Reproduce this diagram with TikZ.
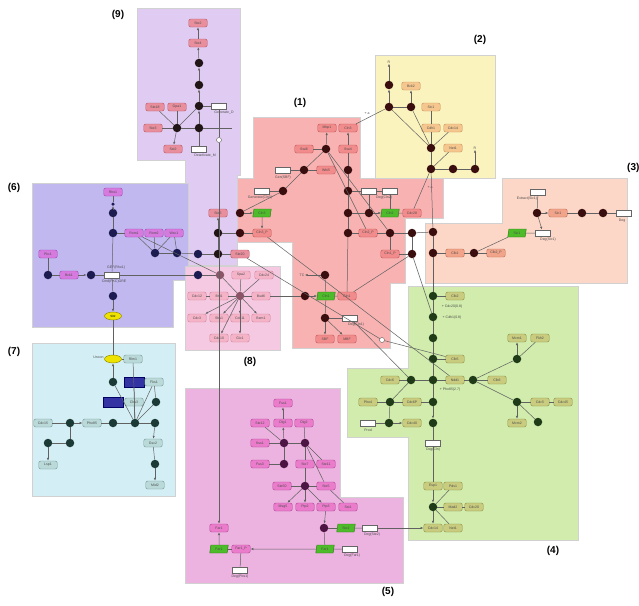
\documentclass[tikz,border=0pt]{standalone}
\usepackage{fontspec}
\setmainfont{Liberation Sans}
\usetikzlibrary{shapes.geometric,arrows.meta}
\definecolor{rA}{HTML}{F8B2B2}
\definecolor{rB}{HTML}{FBF3BE}
\definecolor{rC}{HTML}{FCD6C6}
\definecolor{rD}{HTML}{D1ECAC}
\definecolor{rE}{HTML}{ECB2E0}
\definecolor{rF}{HTML}{C0B8EF}
\definecolor{rG}{HTML}{D3EEF4}
\definecolor{rH}{HTML}{F5C9E2}
\definecolor{rI}{HTML}{E0CCF2}
\definecolor{dkA}{HTML}{3A0E0E}
\definecolor{dkD}{HTML}{1F3B18}
\definecolor{dkE}{HTML}{4C1442}
\definecolor{dkF}{HTML}{1C1C50}
\definecolor{dkG}{HTML}{1B3A36}
\definecolor{dkH}{HTML}{8A5566}
\definecolor{dkI}{HTML}{221515}
\definecolor{bxAf}{HTML}{F28C8C}\definecolor{bxAd}{HTML}{C25A5A}
\definecolor{bxBf}{HTML}{F5C78E}\definecolor{bxBd}{HTML}{C7955A}
\definecolor{bxCf}{HTML}{F2A48A}\definecolor{bxCd}{HTML}{C07058}
\definecolor{bxDf}{HTML}{C9CC7E}\definecolor{bxDd}{HTML}{8E9448}
\definecolor{bxEf}{HTML}{EA7CCB}\definecolor{bxEd}{HTML}{B24A98}
\definecolor{bxFf}{HTML}{D77ADF}\definecolor{bxFd}{HTML}{A04CB0}
\definecolor{bxGf}{HTML}{BAD9D9}\definecolor{bxGd}{HTML}{7A9A9A}
\definecolor{bxHf}{HTML}{F5B3C8}\definecolor{bxHd}{HTML}{D0889C}
\definecolor{bxIf}{HTML}{E98E9C}\definecolor{bxId}{HTML}{B85A68}
\definecolor{grf}{HTML}{4DBB2A}\definecolor{grd}{HTML}{2E7A14}
\begin{document}
\begin{tikzpicture}[x=1pt,y=-1pt,
 reg/.style={draw=black!18,line width=0.9pt},
 dotb/.style={circle,inner sep=0pt,minimum size=8.5pt},
 dA/.style={dotb,fill=dkA}, dD/.style={dotb,fill=dkD}, dE/.style={dotb,fill=dkE},
 dF/.style={dotb,fill=dkF}, dG/.style={dotb,fill=dkG}, dH/.style={dotb,fill=dkH},
 dI/.style={dotb,fill=dkI},
 boxb/.style={rounded corners=2pt,draw,line width=0.45pt,inner sep=0.4pt,minimum width=18.5pt,minimum height=8pt,font=\fontsize{3.5}{3.8}\selectfont,text=black!70},
 bA/.style={boxb,fill=bxAf,draw=bxAd}, bB/.style={boxb,fill=bxBf,draw=bxBd},
 bC/.style={boxb,fill=bxCf,draw=bxCd}, bD/.style={boxb,fill=bxDf,draw=bxDd},
 bE/.style={boxb,fill=bxEf,draw=bxEd}, bF/.style={boxb,fill=bxFf,draw=bxFd},
 bG/.style={boxb,fill=bxGf,draw=bxGd}, bH/.style={boxb,fill=bxHf,draw=bxHd},
 bI/.style={boxb,fill=bxIf,draw=bxId},
 wbox/.style={draw=black!60,fill=white,line width=0.45pt,minimum width=15pt,minimum height=6.5pt,inner sep=0pt},
 gpar/.style={trapezium,trapezium left angle=65,trapezium right angle=115,trapezium stretches body,fill=grf,draw=grd,line width=0.45pt,minimum width=18.5pt,minimum height=8pt,inner sep=0pt,font=\fontsize{3.5}{3.8}\selectfont,text=black!70},
 blu/.style={fill=blue!55!black!80,draw=blue!40!black,minimum width=20pt,minimum height=10pt,inner sep=0pt},
 yel/.style={ellipse,fill=yellow!85!olive,draw=olive,line width=0.45pt,minimum width=17pt,minimum height=8pt,inner sep=0pt},
 ocirc/.style={circle,draw=black!65,fill=white,minimum size=5pt,inner sep=0pt},
 tiny/.style={font=\fontsize{3.5}{3.8}\selectfont,text=black!70,inner sep=0.3pt},
 rlab/.style={font=\bfseries\fontsize{10}{12}\selectfont,inner sep=0pt},
 ln/.style={draw=black!62,line width=0.5pt},
 ar/.style={ln,-{Latex[length=2.8pt,width=2.2pt]}}
]
\useasboundingbox (0,0) rectangle (639,605);
\fill[white] (0,0) rectangle (639,605);
% ---------------- regions
\path[reg,fill=rI] (137,8) -- (240,8) -- (240,175) -- (237,175) -- (237,265) -- (185,265) -- (185,160) -- (137,160) -- cycle;
\path[reg,fill=rF] (32,183) -- (188,183) -- (188,280) -- (173,280) -- (173,327) -- (32,327) -- cycle;
\path[reg,fill=rH] (185,266) -- (280,266) -- (280,350) -- (185,350) -- cycle;
\path[reg,fill=rG] (32,343) rectangle (175,496);
\path[reg,fill=rA] (253,117) -- (360,117) -- (360,178) -- (443,178) -- (443,218) -- (405,218) -- (405,283) -- (390,283) -- (390,348) -- (292,348) -- (292,242) -- (237,242) -- (237,178) -- (253,178) -- cycle;
\path[reg,fill=rB] (375,55) rectangle (495,178);
\path[reg,fill=rC] (502,178) -- (627,178) -- (627,283) -- (425,283) -- (425,223) -- (502,223) -- cycle;
\path[reg,fill=rD] (408,286) -- (578,286) -- (578,540) -- (408,540) -- (408,437) -- (347,437) -- (347,368) -- (408,368) -- cycle;
\path[reg,fill=rE] (185,388) -- (340,388) -- (340,497) -- (403,497) -- (403,583) -- (185,583) -- cycle;
% ---------------- region labels
\node[rlab] (L1) at (300,103) {(1)};
\node[rlab] (L2) at (480,40) {(2)};
\node[rlab,anchor=west] (L3) at (627,168) {(3)};
\node[rlab] (L4) at (553,551) {(4)};
\node[rlab] (L5) at (388,592) {(5)};
\node[rlab] (L6) at (14,188) {(6)};
\node[rlab] (L7) at (14,352) {(7)};
\node[rlab] (L8) at (250,362) {(8)};
\node[rlab] (L9) at (118,15) {(9)};
% ---------------- region 9
\node[bI] (b9a) at (198,23) {Ste2};
\node[bI] (b9b) at (198,43) {Ste4};
\node[dI] (d9a) at (199,63) {};
\node[dI] (d9b) at (199,85) {};
\node[dI] (d9c) at (199,106) {};
\node[wbox] (w9a) at (219,106) {};
\node[tiny] (t9a) at (224,113) {Generate\_D};
\node[bI] (b9c) at (155,107) {Ste18};
\node[bI] (b9d) at (177,107) {Gpa1};
\node[bI] (b9e) at (153,128) {Ste3};
\node[dI] (d9d) at (177,128) {};
\node[dI] (d9e) at (199,128) {};
\node[bI] (b9f) at (173,149) {Sst2};
\node[wbox] (w9b) at (199,149) {};
\node[tiny] (t9b) at (205,156) {Deactivate\_M};
\node[ocirc] (c9) at (219,140) {};
\coordinate (e9) at (232,128);
\node[bI] (b9g) at (218,213) {Ste5};
\node[dI] (d9f) at (218,233) {};
\node[dI] (d9h) at (218,254) {};
\node[bI] (b9h) at (240,254) {Ste20};
\node[dF] (d6x) at (198,254) {};
\node[dF] (d6y) at (198,275) {};
% ---------------- region 6
\node[bF] (b6a) at (113,192) {Rho1};
\node[circle,fill=dkF,inner sep=0pt,minimum size=3.5pt] (s6) at (113,204) {};
\node[dF] (d6a) at (113,213) {};
\node[dF] (d6b) at (113,233) {};
\node[bF] (b6b) at (134,233) {Rom1};
\node[bF] (b6c) at (154,233) {Rom2};
\node[bF] (b6d) at (174,233) {Wsc1};
\node[dF] (d6c) at (155,253) {};
\node[dF] (d6d) at (177,253) {};
\node[bF] (b6e) at (48,254) {Pkc1};
\node[dF] (d6e) at (48,275) {};
\node[bF] (b6f) at (69,275) {Bck1};
\node[dF] (d6f) at (91,275) {};
\node[wbox] (w6) at (112,275) {};
\node[tiny] (t6a) at (116,268) {GEF(Rho1)};
\node[tiny] (t6b) at (114,282) {Cmd(PKC)GRE};
\node[dF] (d6g) at (113,296) {};
\node[yel,font=\fontsize{3}{3.3}\selectfont] (y6) at (113,316) {Slt2};
% ---------------- region 7
\node[yel] (y7) at (113,359) {};
\node[tiny,anchor=east] (t7a) at (104,357) {Uncon};
\node[bG] (b7a) at (133,359) {Rlm1};
\node[dG] (d7a) at (113,382) {};
\node[blu] (r7a) at (134,382) {};
\node[bG] (b7b) at (154,382) {Fks1};
\node[blu] (r7b) at (113,402) {};
\node[bG] (b7c) at (134,402) {Chs3};
\node[dG] (d7b) at (156,402) {};
\node[bG] (b7d) at (43,423) {Cdc15};
\node[dG] (d7c) at (70,423) {};
\node[bG] (b7e) at (92,423) {Pho85};
\node[dG] (d7d) at (113,423) {};
\node[dG] (d7e) at (135,423) {};
\node[dG] (d7f) at (155,423) {};
\node[dG] (d7g) at (48,443) {};
\node[dG] (d7h) at (70,443) {};
\node[bG] (b7f) at (153,443) {Gsc2};
\node[bG] (b7g) at (48,465) {Lsp1};
\node[dG] (d7i) at (155,464) {};
\node[bG] (b7h) at (155,485) {Mid2};
% ---------------- region 8
\node[dH] (d8a) at (220,275) {};
\node[bH] (b8a) at (241,275) {Spa2};
\node[bH] (b8b) at (264,275) {Cdc24};
\node[bH] (b8c) at (197,296) {Cdc12};
\node[bH] (b8d) at (219,296) {Bni1};
\node[dH] (d8b) at (240,296) {};
\node[bH] (b8e) at (261,296) {Bud6};
\node[bH] (b8f) at (197,318) {Cdc3};
\node[bH] (b8g) at (219,318) {Shs1};
\node[bH] (b8h) at (240,318) {Cdc11};
\node[bH] (b8i) at (261,318) {Bem1};
\node[bH] (b8j) at (219,338) {Cdc10};
\node[bH] (b8k) at (240,338) {Gic1};
% ---------------- region 1
\node[bA] (b1a) at (327,128) {Mbp1};
\node[bA] (b1b) at (348,128) {Cln3};
\node[bA] (b1c) at (304,149) {Swi6};
\node[dA] (d1a) at (326,149) {};
\node[bA] (b1d) at (348,149) {Swi4};
\node[wbox] (w1a) at (283,170) {};
\node[tiny] (t1a) at (283,178) {Gen(SBF)};
\node[dA] (d1b) at (304,170) {};
\node[bA] (b1e) at (326,170) {Whi5};
\node[dA] (d1c) at (348,170) {};
\node[wbox] (w1b) at (262,191) {};
\node[tiny] (t1b) at (260,198) {Generate(Cln3)};
\node[dA] (d1d) at (283,191) {};
\node[dA] (d1e) at (348,191) {};
\node[wbox] (w1c) at (369,191) {};
\node[wbox] (w1d) at (390,191) {};
\node[tiny] (t1c) at (384,198) {Deg(Cln2)};
\node[dA] (d1f) at (240,213) {};
\node[gpar] (g1a) at (262,213) {Cln3};
\node[dA] (d1g) at (348,213) {};
\node[dA] (d1h) at (369,213) {};
\node[gpar] (g1b) at (390,213) {Cln2};
\node[bA] (b1f) at (412,213) {Cdc28};
\node[dA] (d1i) at (240,233) {};
\node[bA] (b1g) at (262,233) {Cln3\_P};
\node[dA] (d1j) at (348,233) {};
\node[bA] (b1h) at (368,233) {Cln2\_P};
\node[dA] (d1k) at (390,233) {};
\node[dA] (d1l) at (412,233) {};
\node[bA] (b1i) at (390,254) {Cln1\_P};
\node[dA] (d1m) at (412,254) {};
\node[tiny] (t1d) at (302,275) {TC};
\node[dA] (d1n) at (325,275) {};
\node[dA] (d1o) at (305,296) {};
\node[gpar] (g1c) at (326,296) {Cln1};
\node[bA] (b1j) at (347,296) {Cln1};
\node[dA] (d1p) at (325,318) {};
\node[wbox] (w1e) at (350,318) {};
\node[tiny] (t1e) at (356,325) {Deg(Cln1)};
\node[bA] (b1k) at (325,339) {SBF};
\node[bA] (b1l) at (347,339) {MBF};
\node[ocirc] (c1) at (382,340) {};
\node[tiny] (t1f) at (367,114) {+ a};
\node[tiny] (t1g) at (430,188) {+ a};
% ---------------- region 2
\node[tiny] (t2a) at (389,62) {R};
\node[dA] (d2a) at (389,85) {};
\node[bB] (b2a) at (411,86) {Bck2};
\node[dA] (d2b) at (389,107) {};
\node[dA] (d2c) at (411,107) {};
\node[bB] (b2b) at (431,107) {Sic1};
\node[bB] (b2c) at (431,128) {Cdh1};
\node[bB] (b2d) at (453,128) {Cdc14};
\node[dA] (d2d) at (431,148) {};
\node[bB] (b2e) at (453,148) {Net1};
\node[dA] (d2e) at (431,169) {};
\node[dA] (d2f) at (453,169) {};
\node[dA] (d2g) at (475,169) {};
\node[tiny] (t2b) at (475,148) {R};
% ---------------- region 3
\node[wbox] (w3a) at (538,192) {};
\node[tiny] (t3a) at (527,199) {Extract(Sic1)};
\node[dA] (d3a) at (537,213) {};
\node[bC] (b3a) at (558,213) {Sic1};
\node[dA] (d3b) at (582,213) {};
\node[dA] (d3c) at (603,213) {};
\node[wbox] (w3b) at (624,213) {};
\node[tiny] (t3b) at (622,221) {Deg};
\node[gpar] (g3) at (517,233) {Sic1};
\node[wbox] (w3c) at (543,233) {};
\node[tiny] (t3c) at (548,240) {Deg(Sic1)};
\node[dA] (d3d) at (433,232) {};
\node[dA] (d3e) at (433,253) {};
\node[bC] (b3b) at (455,253) {Clb1};
\node[dA] (d3f) at (474,253) {};
\node[bC] (b3c) at (496,253) {Clb2\_P};
% ---------------- region 4
\node[dD] (d4a) at (433,296) {};
\node[bD] (b4a) at (455,296) {Clb2};
\node[dD] (d4b) at (433,317) {};
\node[tiny] (t4a) at (452,307) {+ Cdc20(0.8)};
\node[tiny] (t4b) at (452,318) {+ Cdh1(0.8)};
\node[dD] (d4c) at (433,338) {};
\node[bD] (b4b) at (517,338) {Mcm1};
\node[bD] (b4c) at (540,338) {Fkh2};
\node[dD] (d4d) at (433,359) {};
\node[bD] (b4d) at (455,359) {Clb5};
\node[dD] (d4e) at (517,359) {};
\node[bD] (b4e) at (390,380) {Cdc6};
\node[dD] (d4f) at (411,380) {};
\node[dD] (d4g) at (433,380) {};
\node[bD] (b4f) at (455,380) {Ndd1};
\node[dD] (d4h) at (473,380) {};
\node[bD] (b4g) at (497,380) {Clb6};
\node[tiny] (t4c) at (450,390) {+ Pho85(2.7)};
\node[bD] (b4h) at (368,402) {Pho4};
\node[dD] (d4i) at (390,402) {};
\node[bD] (b4i) at (412,402) {Cdc6P};
\node[dD] (d4j) at (433,402) {};
\node[dD] (d4k) at (517,402) {};
\node[bD] (b4j) at (540,402) {Cdc5};
\node[bD] (b4k) at (563,402) {Cdc45};
\node[wbox] (w4a) at (368,423) {};
\node[tiny] (t4d) at (368,430) {Prod};
\node[dD] (d4l) at (389,423) {};
\node[bD] (b4l) at (412,423) {Cdc40};
\node[dD] (d4m) at (433,423) {};
\node[bD] (b4m) at (517,423) {Mcm2};
\node[dD] (d4n) at (538,422) {};
\node[wbox] (w4b) at (433,443) {};
\node[tiny] (t4e) at (433,450) {Deg(Cln)};
\node[bD] (b4n) at (433,486) {Esp1};
\node[bD] (b4o) at (453,486) {Pds1};
\node[dD] (d4o) at (433,507) {};
\node[bD] (b4p) at (453,507) {Mad2};
\node[bD] (b4q) at (474,507) {Cdc20};
\node[bD] (b4r) at (433,528) {Cdc14};
\node[bD] (b4s) at (453,528) {Net1};
% ---------------- region 5
\node[bE] (b5a) at (283,403) {Fus1};
\node[bE] (b5b) at (260,423) {Ste12};
\node[bE] (b5c) at (283,423) {Dig1};
\node[bE] (b5d) at (304,423) {Dig2};
\node[bE] (b5e) at (260,443) {Kss1};
\node[dE] (d5a) at (284,443) {};
\node[dE] (d5b) at (305,443) {};
\node[bE] (b5f) at (260,464) {Fus3};
\node[dE] (d5c) at (284,464) {};
\node[bE] (b5g) at (305,464) {Ste7};
\node[bE] (b5h) at (326,464) {Ste11};
\node[bE] (b5i) at (282,486) {Ste50};
\node[dE] (d5d) at (305,486) {};
\node[bE] (b5j) at (326,486) {Ste5};
\node[bE] (b5k) at (283,507) {Msg5};
\node[bE] (b5l) at (305,507) {Ptp2};
\node[bE] (b5m) at (326,507) {Ptp3};
\node[bE] (b5n) at (348,507) {Sst1};
\node[bE] (b5o) at (219,528) {Far1};
\node[dE] (d5e) at (324,528) {};
\node[gpar] (g5a) at (346,528) {Ste2};
\node[wbox] (w5a) at (370,528) {};
\node[tiny] (t5a) at (372,535) {Deg(Ste2)};
\node[gpar] (g5b) at (219,549) {Far1};
\node[bE] (b5p) at (241,549) {Far1\_P};
\node[gpar] (g5c) at (325,549) {Far1};
\node[wbox] (w5b) at (350,549) {};
\node[tiny] (t5b) at (352,556) {Deg(Far1)};
\node[wbox] (w5c) at (240,570) {};
\node[tiny] (t5c) at (240,577) {Deg(Pbs1)};
% ================= connectors
% region 9
\draw[ar] (b9b) -- (b9a);
\draw[ar] (d9a) -- (b9b);
\draw[ar] (d9b) -- (d9a);
\draw[ar] (d9c) -- (d9b);
\draw[ln] (w9a) -- (d9c);
\draw[ln] (b9c) -- (d9d);
\draw[ln] (b9d) -- (d9d);
\draw[ln] (b9e) -- (d9d);
\draw[ln] (d9d) -- (d9e);
\draw[ln] (d9e) -- (e9);
\draw[ar] (d9e) -- (d9c);
\draw[ln] (d9d) -- (d9c);
\draw[ar] (d9d) -- (b9f);
\draw[ln] (w9b) -- (d9e);
\draw[ln] (w9a) -- (c9);
\draw[ar] (c9) -- (b5o);
\draw[ar] (d9f) -- (b9g);
\draw[ln] (d9h) -- (d9f);
\draw[ln] (d6x) -- (d9h);
\draw[ln] (d9h) -- (b9h);
\draw[ln] (d9f) -- (d1i);
% region 6
\draw[ar] (d6a) -- (s6);
\draw[ln] (s6) -- (b6a);
\draw[ln] (d6b) -- (d6a);
\draw[ln] (d6b) -- (b6b);
\draw[ln] (b6b) -- (d6c);
\draw[ln] (b6c) -- (d6c);
\draw[ln] (b6d) -- (d6c);
\draw[ln] (b6d) -- (d6d);
\draw[ln] (d6c) -- (d6d);
\draw[ln] (d6d) -- (d6x);
\draw[ln] (d6e) -- (b6e);
\draw[ln] (d6e) -- (b6f);
\draw[ar] (b6f) -- (d6f);
\draw[ln] (d6f) -- (w6);
\draw[ln] (w6) -- (d6y);
\draw[ln] (d6b) -- (w6);
\draw[ln] (w6) -- (d6g);
\draw[ar] (d6g) -- (y6);
\draw[ln] (b6b) -- (d8a);
\draw[ln] (d6y) -- (d8a);
% region 7
\draw[ln] (y6) -- (y7);
\draw[ln] (y7) -- (b7a);
\draw[ar] (d7a) -- (y7);
\draw[ln] (d7a) -- (d7e);
\draw[ln] (b7a) -- (d7e);
\draw[ln] (b7b) -- (d7e);
\draw[ln] (r7a) -- (d7e);
\draw[ln] (b7c) -- (d7e);
\draw[ln] (d7b) -- (d7e);
\draw[ln] (d7b) -- (b7b);
\draw[ln] (d7c) -- (b7d);
\draw[ar] (d7c) -- (b7e);
\draw[ln] (b7e) -- (d7d);
\draw[ln] (d7d) -- (d7e);
\draw[ln] (d7e) -- (d7f);
\draw[ln] (d7c) -- (d7h);
\draw[ln] (d7h) -- (d7g);
\draw[ar] (d7g) -- (b7g);
\draw[ar] (d7f) -- (b7f);
\draw[ln] (b7f) -- (d7i);
\draw[ar] (d7i) -- (b7h);
% region 8
\draw[ln] (d8a) -- (d8b);
\draw[ln] (d8b) -- (b8a);
\draw[ln] (d8b) -- (b8b);
\draw[ln] (b8c) -- (b8d);
\draw[ln] (b8d) -- (d8b);
\draw[ln] (d8b) -- (b8e);
\draw[ar] (d8b) -- (b8f);
\draw[ar] (d8b) -- (b8g);
\draw[ar] (d8b) -- (b8h);
\draw[ar] (d8b) -- (b8i);
\draw[ar] (d8b) -- (b8j);
\draw[ar] (d8b) -- (b8k);
\draw[ln] (b8e) -- (d1o);
% region 1
\draw[ln] (d1a) -- (b1c);
\draw[ar] (d1a) -- (b1a);
\draw[ar] (b1d) -- (b1b);
\draw[ln] (d1b) -- (d1a);
\draw[ln] (w1a) -- (d1b);
\draw[ln] (d1b) -- (b1e);
\draw[ln] (w1b) -- (d1d);
\draw[ln] (d1d) -- (d1b);
\draw[ln] (d1f) -- (d1d);
\draw[ar] (d1f) -- (g1a);
\draw[ar] (g1a) -- (b1g);
\draw[ln] (d1i) -- (b1g);
\draw[ln] (d1c) -- (b1d);
\draw[ln] (d1c) -- (d1e);
\draw[ln] (d1e) -- (d1g);
\draw[ln] (d1g) -- (d1j);
\draw[ln] (d1j) -- (b1j);
\draw[ln] (d1e) -- (w1c);
\draw[ln] (w1c) -- (w1d);
\draw[ln] (d1h) -- (w1c);
\draw[ln] (d1g) -- (d1h);
\draw[ar] (d1h) -- (g1b);
\draw[ln] (g1b) -- (b1f);
\draw[ln] (w1d) -- (g1b);
\draw[ln] (d1j) -- (b1h);
\draw[ln] (b1h) -- (d1k);
\draw[ln] (d1k) -- (d1l);
\draw[ln] (d1a) -- (b1h);
\draw[ln] (d1a) -- (d1k);
\draw[ln] (d1k) -- (b1i);
\draw[ln] (b1i) -- (d1m);
\draw[ln] (d1l) -- (d1m);
\draw[ar] (d1n) -- (t1d);
\draw[ln] (d1n) -- (g1c);
\draw[ar] (d1o) -- (g1c);
\draw[ln] (g1c) -- (b1j);
\draw[ln] (g1c) -- (d1p);
\draw[ln] (d1p) -- (w1e);
\draw[ar] (d1p) -- (b1k);
\draw[ar] (d1p) -- (b1l);
\draw[ln] (b1j) -- (d1m);
\draw[ln] (b1b) -- (d2b);
\draw[ln] (b1f) -- (d2e);
\draw[ln] (d1l) -- (d3d);
% region 2
\draw[ar] (d2a) -- (t2a);
\draw[ar] (d2b) -- (d2a);
\draw[ln] (d2b) -- (d2c);
\draw[ar] (d2c) -- (b2a);
\draw[ln] (d2b) -- (d2d);
\draw[ln] (d2c) -- (d2d);
\draw[ln] (b2b) -- (b2c);
\draw[ln] (b2c) -- (d2d);
\draw[ln] (b2d) -- (d2d);
\draw[ln] (d2d) -- (d2e);
\draw[ln] (b2e) -- (d2e);
\draw[ln] (d2e) -- (d2f);
\draw[ln] (d2f) -- (d2g);
\draw[ar] (d2g) -- (t2b);
% region 3
\draw[ln] (d3a) -- (w3a);
\draw[ar] (d3a) -- (b3a);
\draw[ln] (b3a) -- (d3b);
\draw[ln] (d3b) -- (d3c);
\draw[ln] (d3c) -- (w3b);
\draw[ar] (d3a) -- (w3c);
\draw[ln] (g3) -- (w3c);
\draw[ln] (g3) -- (d3f);
\draw[ln] (d3f) -- (b3c);
\draw[ln] (d3e) -- (b3b);
\draw[ln] (b3b) -- (d3f);
\draw[ln] (d2e) -- (d3d);
\draw[ln] (d3d) -- (d3e);
% region 4
\draw[ln] (d3e) -- (d4a);
\draw[ln] (d4a) -- (d4b);
\draw[ln] (d4b) -- (d4c);
\draw[ln] (d4c) -- (d4d);
\draw[ln] (d4d) -- (d4g);
\draw[ln] (d4g) -- (d4j);
\draw[ar] (d4j) -- (d4m);
\draw[ln] (d4m) -- (w4b);
\draw[ln] (w4b) -- (b4n);
\draw[ar] (b4n) -- (d4o);
\draw[ar] (d4o) -- (b4r);
\draw[ln] (d4a) -- (b4a);
\draw[ln] (d4d) -- (b4d);
\draw[ar] (d4e) -- (b4b);
\draw[ln] (d4e) -- (b4c);
\draw[ln] (d4e) -- (d4h);
\draw[ln] (d4h) -- (b4f);
\draw[ln] (d4g) -- (b4f);
\draw[ln] (d4h) -- (b4g);
\draw[ln] (d4f) -- (b4e);
\draw[ln] (d4f) -- (d4g);
\draw[ln] (d4f) -- (d4i);
\draw[ln] (d4i) -- (b4i);
\draw[ln] (d4i) -- (b4h);
\draw[ln] (d4j) -- (b4i);
\draw[ln] (d4l) -- (w4a);
\draw[ar] (d4l) -- (b4l);
\draw[ln] (d4i) -- (d4l);
\draw[ln] (d4h) -- (d4k);
\draw[ln] (d4k) -- (b4j);
\draw[ln] (b4j) -- (b4k);
\draw[ar] (d4k) -- (b4m);
\draw[ln] (d4k) -- (d4n);
\draw[ln] (b4o) -- (d4o);
\draw[ln] (d4o) -- (b4p);
\draw[ln] (b4p) -- (b4q);
\draw[ln] (d4o) -- (b4s);
% region 5
\draw[ar] (d5a) -- (b5c);
\draw[ar] (b5c) -- (b5a);
\draw[ln] (d5a) -- (b5b);
\draw[ln] (d5a) -- (b5e);
\draw[ln] (d5a) -- (d5b);
\draw[ln] (b5d) -- (d5b);
\draw[ln] (d5a) -- (d5c);
\draw[ln] (d5c) -- (b5f);
\draw[ln] (d5b) -- (b5g);
\draw[ln] (d5b) -- (b5h);
\draw[ln] (d5b) -- (b5j);
\draw[ln] (d5d) -- (b5i);
\draw[ln] (d5d) -- (b5g);
\draw[ln] (d5d) -- (b5j);
\draw[ar] (d5d) -- (b5k);
\draw[ar] (d5d) -- (b5l);
\draw[ar] (d5d) -- (b5m);
\draw[ln] (b5j) -- (b5n);
\draw[ar] (b5m) -- (d5e);
\draw[ln] (d5e) -- (g5a);
\draw[ln] (g5a) -- (w5a);
\draw[ar] (w5a) -- (b4r);
\draw[ln] (d5e) -- (g5c);
\draw[ln] (g5c) -- (w5b);
\draw[ar] (g5c) -- (b5p);
\draw[ln] (b5p) -- (g5b);
\draw[ar] (g5b) -- (b5o);
\draw[ln] (w5c) -- (b5p);
% long crossings
\draw[ln] (b9h) -- (c1);
\draw[ln] (c1) -- (b4d);
\draw[ln] (b1g) -- (b4f);
\draw[ln] (w1e) -- (d4f);
\draw[ln] (d1m) -- (d4b);
\end{tikzpicture}
\end{document}
